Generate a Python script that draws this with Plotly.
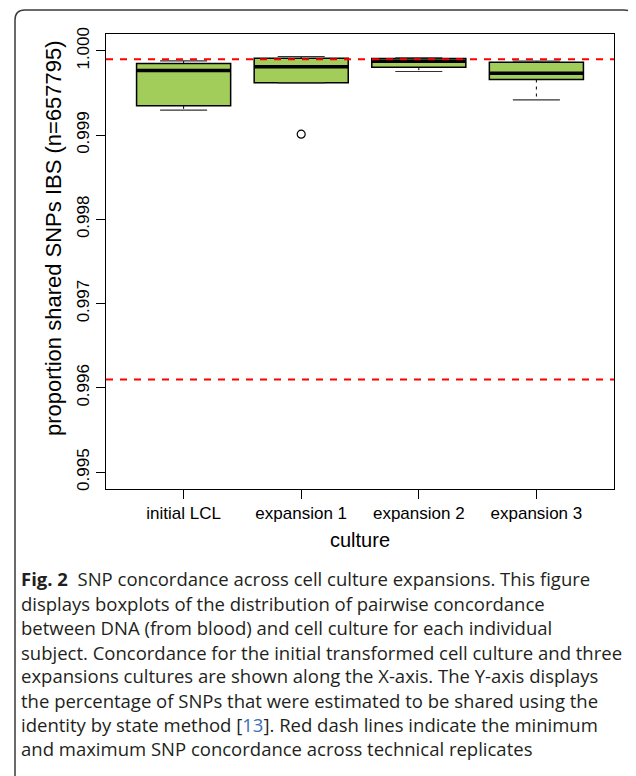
import plotly.graph_objects as go

# ---- data ----
categories = ["initial LCL", "expansion 1", "expansion 2", "expansion 3"]
q1 = [0.999347, 0.999620, 0.999806, 0.999660]
median = [0.999767, 0.999810, 0.999878, 0.999735]
q3 = [0.999850, 0.999913, 0.999910, 0.999866]
lower_whisker = [0.999296, 0.999620, 0.999755, 0.999418]
upper_whisker = [0.999881, 0.999933, 0.999917, 0.999878]
outlier_group = [2]
outlier_value = [0.999011]
ref_lines = [0.9961, 0.9999]  # min / max concordance across technical replicates
y_ticks = [0.995, 0.996, 0.997, 0.998, 0.999, 1.000]

caption_lines = [
    "<b>Fig. 2</b>  SNP concordance across cell culture expansions. This figure",
    "displays boxplots of the distribution of pairwise concordance",
    "between DNA (from blood) and cell culture for each individual",
    "subject. Concordance for the initial transformed cell culture and three",
    "expansions cultures are shown along the X-axis. The Y-axis displays",
    "the percentage of SNPs that were estimated to be shared using the",
    "identity by state method [<span style='color:#3d6fb6'>13</span>]. Red dash lines indicate the minimum",
    "and maximum SNP concordance across technical replicates",
]

# ---- layout constants (page body has an 8px margin) ----
OFF = 8
W, H = 628, 768
ML, MT = 106 - OFF, 34 - OFF
MR, MB = W - (614 - OFF), H - (489 - OFF)
PW, PH = W - ML - MR, H - MT - MB
GREEN = "#A2CD5A"
FONT = "Liberation Sans, Arial, Helvetica, sans-serif"


def px(xp):
    """screen x pixel -> paper fraction"""
    return (xp - OFF - ML) / PW


def py(yp):
    """screen y pixel -> paper fraction"""
    return (H - MB - (yp - OFF)) / PH


xs = list(range(1, len(categories) + 1))
fig = go.Figure()

# boxes (whiskers drawn separately so they can be dashed like R)
fig.add_trace(go.Box(
    x=xs, q1=q1, median=median, q3=q3,
    lowerfence=q1, upperfence=q3,
    width=0.8, whiskerwidth=0,
    fillcolor=GREEN, line=dict(color="black", width=1.5),
    boxpoints=False, showlegend=False, hoverinfo="skip",
))

for i, x in enumerate(xs):
    for a, b in ((q3[i], upper_whisker[i]), (q1[i], lower_whisker[i])):
        if abs(a - b) > 1e-9:
            fig.add_trace(go.Scatter(
                x=[x, x], y=[a, b], mode="lines",
                line=dict(color="black", width=1, dash="3px,4px"),
                showlegend=False, hoverinfo="skip"))
    for w in (upper_whisker[i], lower_whisker[i]):
        fig.add_trace(go.Scatter(
            x=[x - 0.2, x + 0.2], y=[w, w], mode="lines",
            line=dict(color="#333333", width=1.2),
            showlegend=False, hoverinfo="skip"))
    fig.add_trace(go.Scatter(
        x=[x - 0.4, x + 0.4], y=[median[i], median[i]], mode="lines",
        line=dict(color="black", width=3.5),
        showlegend=False, hoverinfo="skip"))

fig.add_trace(go.Scatter(
    x=outlier_group, y=outlier_value, mode="markers",
    marker=dict(symbol="circle-open", size=8, color="black", line=dict(width=1.2)),
    showlegend=False, hoverinfo="skip"))

shapes = []
for v in ref_lines:
    shapes.append(dict(type="line", xref="paper", yref="y", x0=0, x1=1, y0=v, y1=v,
                       line=dict(color="#ff0000", width=2, dash="7px,7px"), layer="above"))

frame = (f"M {px(15)} {py(H + 20)} L {px(15)} {py(20)} Q {px(15)} {py(10)} {px(25)} {py(10)} "
         f"L {px(624)} {py(10)} Q {px(634)} {py(10)} {px(634)} {py(20)} L {px(634)} {py(16)}")
shapes.append(dict(type="path", xref="paper", yref="paper", path=frame,
                   line=dict(color="#3a3a3a", width=1.5), layer="above"))

annotations = []
annotations.append(dict(text="culture", xref="paper", yref="paper", x=0.5, y=py(540),
                        xanchor="center", yanchor="middle", showarrow=False,
                        font=dict(family=FONT, size=20, color="black")))
annotations.append(dict(text="proportion shared SNPs IBS (n=657795)", xref="paper", yref="paper",
                        x=px(54), y=py(238), xanchor="center", yanchor="middle", textangle=-90,
                        showarrow=False, font=dict(family=FONT, size=22, color="black")))

cap_y = [578, 603, 627, 652, 676, 700, 724, 748]
for t, yy in zip(caption_lines, cap_y):
    annotations.append(dict(text=t, xref="paper", yref="paper", x=px(19), y=py(yy),
                            xanchor="left", yanchor="middle", showarrow=False,
                            font=dict(family="Open Sans, Noto Sans, sans-serif", size=18.5,
                                      color="#231f20")))

fig.update_layout(
    width=W, height=H,
    margin=dict(l=ML, r=MR, t=MT, b=MB, pad=0),
    paper_bgcolor="white", plot_bgcolor="white",
    shapes=shapes, annotations=annotations,
    showlegend=False,
    xaxis=dict(range=[0.34, 4.66], tickvals=xs, ticktext=categories,
               ticks="outside", ticklen=9, tickcolor="black", tickwidth=1,
               showline=True, linecolor="black", linewidth=1, mirror=True,
               showgrid=False, zeroline=False,
               tickfont=dict(family=FONT, size=17, color="black")),
    yaxis=dict(range=[0.9948, 1.0002], tickvals=y_ticks,
               ticktext=[f"{v:.3f}" for v in y_ticks], tickangle=-90,
               ticks="outside", ticklen=9, tickcolor="black", tickwidth=1,
               showline=True, linecolor="black", linewidth=1, mirror=True,
               showgrid=False, zeroline=False,
               tickfont=dict(family=FONT, size=17, color="black")),
)

fig.write_html("out.html")
